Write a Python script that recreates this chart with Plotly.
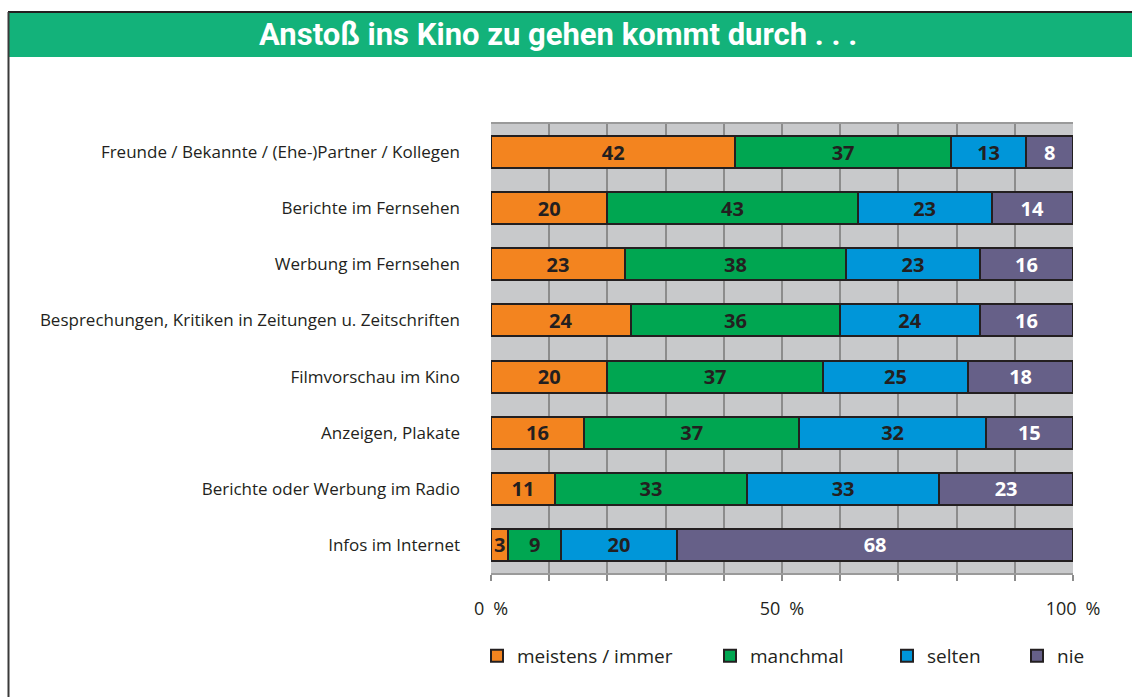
import plotly.graph_objects as go

categories = [
    "Freunde / Bekannte / (Ehe-)Partner / Kollegen",
    "Berichte im Fernsehen",
    "Werbung im Fernsehen",
    "Besprechungen, Kritiken in Zeitungen u. Zeitschriften",
    "Filmvorschau im Kino",
    "Anzeigen, Plakate",
    "Berichte oder Werbung im Radio",
    "Infos im Internet",
]
meistens = [42, 20, 23, 24, 20, 16, 11, 3]
manchmal = [37, 43, 38, 36, 37, 37, 33, 9]
selten = [13, 23, 23, 24, 25, 32, 33, 20]
nie = [8, 14, 16, 16, 18, 15, 23, 68]

series_names = ["meistens / immer", "manchmal", "selten", "nie"]
series_values = [meistens, manchmal, selten, nie]
series_colors = ["#f3841f", "#00a651", "#0096d9", "#666088"]
text_colors = ["#231f20", "#231f20", "#231f20", "#ffffff"]

x_tickvals = list(range(0, 101, 10))
x_ticktext = ["0\u2002%", "", "", "", "", "50\u2002%", "", "", "", "", "100\u2002%"]

title_text = "Anstoß ins Kino zu gehen kommt durch . . ."

W, H = 1132, 697
L, R, T, B = 491, 1073, 124, 573

def px(x):
    return (x - L) / (R - L)

def py(y):
    return (B - y) / (B - T)

FONT = "Open Sans"
fig = go.Figure()
legend_x_px = [489, 722, 899, 1029]
for i, (name, vals, col, tc) in enumerate(zip(series_names, series_values, series_colors, text_colors)):
    lg = "legend" if i == 0 else f"legend{i+1}"
    fig.add_trace(go.Bar(
        y=categories, x=vals, name=name, orientation="h",
        marker=dict(color=col, line=dict(color="#231f20", width=2)),
        text=[str(v) for v in vals], textposition="inside",
        insidetextanchor="middle", textangle=0,
        textfont=dict(family=FONT, size=20, color=tc, weight="bold"),
        hoverinfo="skip", legend=lg,
    ))

layout_legends = {}
for i, xp in enumerate(legend_x_px):
    key = "legend" if i == 0 else f"legend{i+1}"
    layout_legends[key] = dict(
        x=px(xp - 12), y=py(656), xanchor="left", yanchor="middle",
        orientation="h", bgcolor="rgba(0,0,0,0)",
        font=dict(family=FONT, size=19, color="#231f20"),
        itemwidth=30,
    )

fig.update_layout(
    width=W, height=H,
    margin=dict(l=L, r=W - R, t=T, b=H - B, pad=0),
    paper_bgcolor="white", plot_bgcolor="#c8c9cb",
    barmode="stack", bargap=0.43,
    showlegend=True,
    uniformtext=dict(minsize=20, mode="show"),
    **layout_legends,
)
fig.update_xaxes(
    range=[0, 100], tickvals=x_tickvals, ticktext=x_ticktext,
    showgrid=True, gridcolor="#8c8c8c", gridwidth=1.5,
    ticks="outside", ticklen=6, tickcolor="#8c8c8c", tickwidth=1.5,
    tickfont=dict(family=FONT, size=18, color="#231f20"),
    ticklabelstandoff=12,
    showline=True, linecolor="#9a9a9a", linewidth=2, mirror=True,
    zeroline=False, fixedrange=True,
)
fig.update_yaxes(
    autorange="reversed", showgrid=False, ticks="",
    tickfont=dict(family=FONT, size=17, color="#231f20"),
    ticklabelstandoff=30,
    showline=False, fixedrange=True,
)

# frame & banner
fig.add_shape(type="rect", xref="paper", yref="paper",
              x0=px(9), x1=px(W + 5), y0=py(57), y1=py(13),
              fillcolor="#13b27a", line=dict(width=0), layer="below")
fig.add_shape(type="line", xref="paper", yref="paper",
              x0=px(8), x1=px(W + 5), y0=py(12), y1=py(12),
              line=dict(color="#231f20", width=2))
fig.add_shape(type="line", xref="paper", yref="paper",
              x0=px(8.5), x1=px(8.5), y0=py(12), y1=py(H + 5),
              line=dict(color="#3a3a3a", width=2))
fig.add_annotation(xref="paper", yref="paper", x=px(558), y=py(35),
                   text=title_text, showarrow=False,
                   font=dict(family="Roboto", size=31, color="white", weight="bold"),
                   xanchor="center", yanchor="middle")

fig.write_html(
    "out.html",
    config={"displayModeBar": False},
    post_script="document.body.style.margin='0';document.body.style.overflow='hidden';",
)
